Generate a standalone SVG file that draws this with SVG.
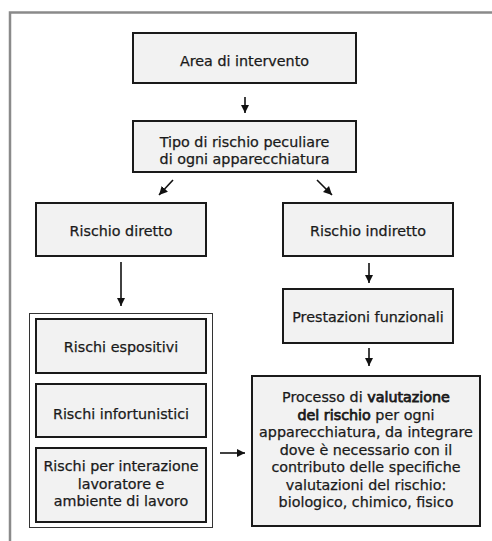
<svg xmlns="http://www.w3.org/2000/svg" width="492" height="541" viewBox="0 0 492 541">
<defs>
<marker id="ah" viewBox="0 0 10 10" refX="10" refY="5" markerWidth="8.5" markerHeight="8.5" markerUnits="userSpaceOnUse" orient="auto">
<path d="M0,0 L10,5 L0,10 z" fill="#111"/>
</marker>
<style>
.box{fill:#f2f2f2;stroke:#1a1a1a;stroke-width:2}
.t{font-family:"DejaVu Sans","Liberation Sans",sans-serif;font-size:14.3px;fill:#1a1a1a;stroke:#1a1a1a;stroke-width:0.25;text-anchor:middle}
.b{stroke-width:0.75}
.c{stroke:#111;stroke-width:1.6;fill:none;marker-end:url(#ah)}
</style>
</defs>
<rect width="492" height="541" fill="#fff"/>
<path d="M10,541 L10,12.5 L492,12.5" fill="none" stroke="#8a8a8a" stroke-width="2.5"/>
<g id="connectors">
<line class="c" x1="245" y1="97" x2="245" y2="113"/>
<line class="c" x1="173" y1="180" x2="159" y2="195"/>
<line class="c" x1="317" y1="180" x2="332" y2="195"/>
<line class="c" x1="121" y1="262" x2="121" y2="306"/>
<line class="c" x1="369" y1="263" x2="369" y2="283"/>
<line class="c" x1="369" y1="348" x2="369" y2="366"/>
<line class="c" x1="220" y1="453" x2="245" y2="453"/>
</g>
<g id="n-area"><rect class="box" x="133" y="33" width="223" height="50"/><text class="t" x="244.5" y="66">Area di intervento</text></g>
<g id="n-tipo"><rect class="box" x="133" y="121" width="223" height="51"/><text class="t" x="244.5" y="146.5">Tipo di rischio peculiare</text><text class="t" x="244.5" y="163.5">di ogni apparecchiatura</text></g>
<g id="n-diretto"><rect class="box" x="36" y="203" width="170" height="53"/><text class="t" x="121" y="236">Rischio diretto</text></g>
<g id="n-indiretto"><rect class="box" x="283" y="203" width="170" height="53"/><text class="t" x="368" y="236">Rischio indiretto</text></g>
<g id="n-prestazioni"><rect class="box" x="283" y="289" width="170" height="54"/><text class="t" x="368" y="322">Prestazioni funzionali</text></g>
<g id="n-gruppo"><rect x="29.5" y="313.5" width="183" height="214" fill="#fff" stroke="#333" stroke-width="1"/></g>
<g id="n-espositivi"><rect class="box" x="36" y="319" width="170" height="54"/><text class="t" x="121" y="352">Rischi espositivi</text></g>
<g id="n-infortunistici"><rect class="box" x="36" y="384" width="170" height="53"/><text class="t" x="121" y="419">Rischi infortunistici</text></g>
<g id="n-interazione"><rect class="box" x="36" y="448" width="170" height="74"/><text class="t" x="121" y="471">Rischi per interazione</text><text class="t" x="121" y="488.5">lavoratore e</text><text class="t" x="121" y="506">ambiente di lavoro</text></g>
<g id="n-processo"><rect class="box" x="252" y="376" width="228" height="150"/>
<text class="t" x="366" y="402">Processo di <tspan class="b">valutazione</tspan></text>
<text class="t" x="366" y="419.5"><tspan class="b">del rischio</tspan> per ogni</text>
<text class="t" x="366" y="437">apparecchiatura, da integrare</text>
<text class="t" x="366" y="454.5">dove è necessario con il</text>
<text class="t" x="366" y="472">contributo delle specifiche</text>
<text class="t" x="366" y="489.5">valutazioni del rischio:</text>
<text class="t" x="366" y="507">biologico, chimico, fisico</text>
</g>
</svg>
